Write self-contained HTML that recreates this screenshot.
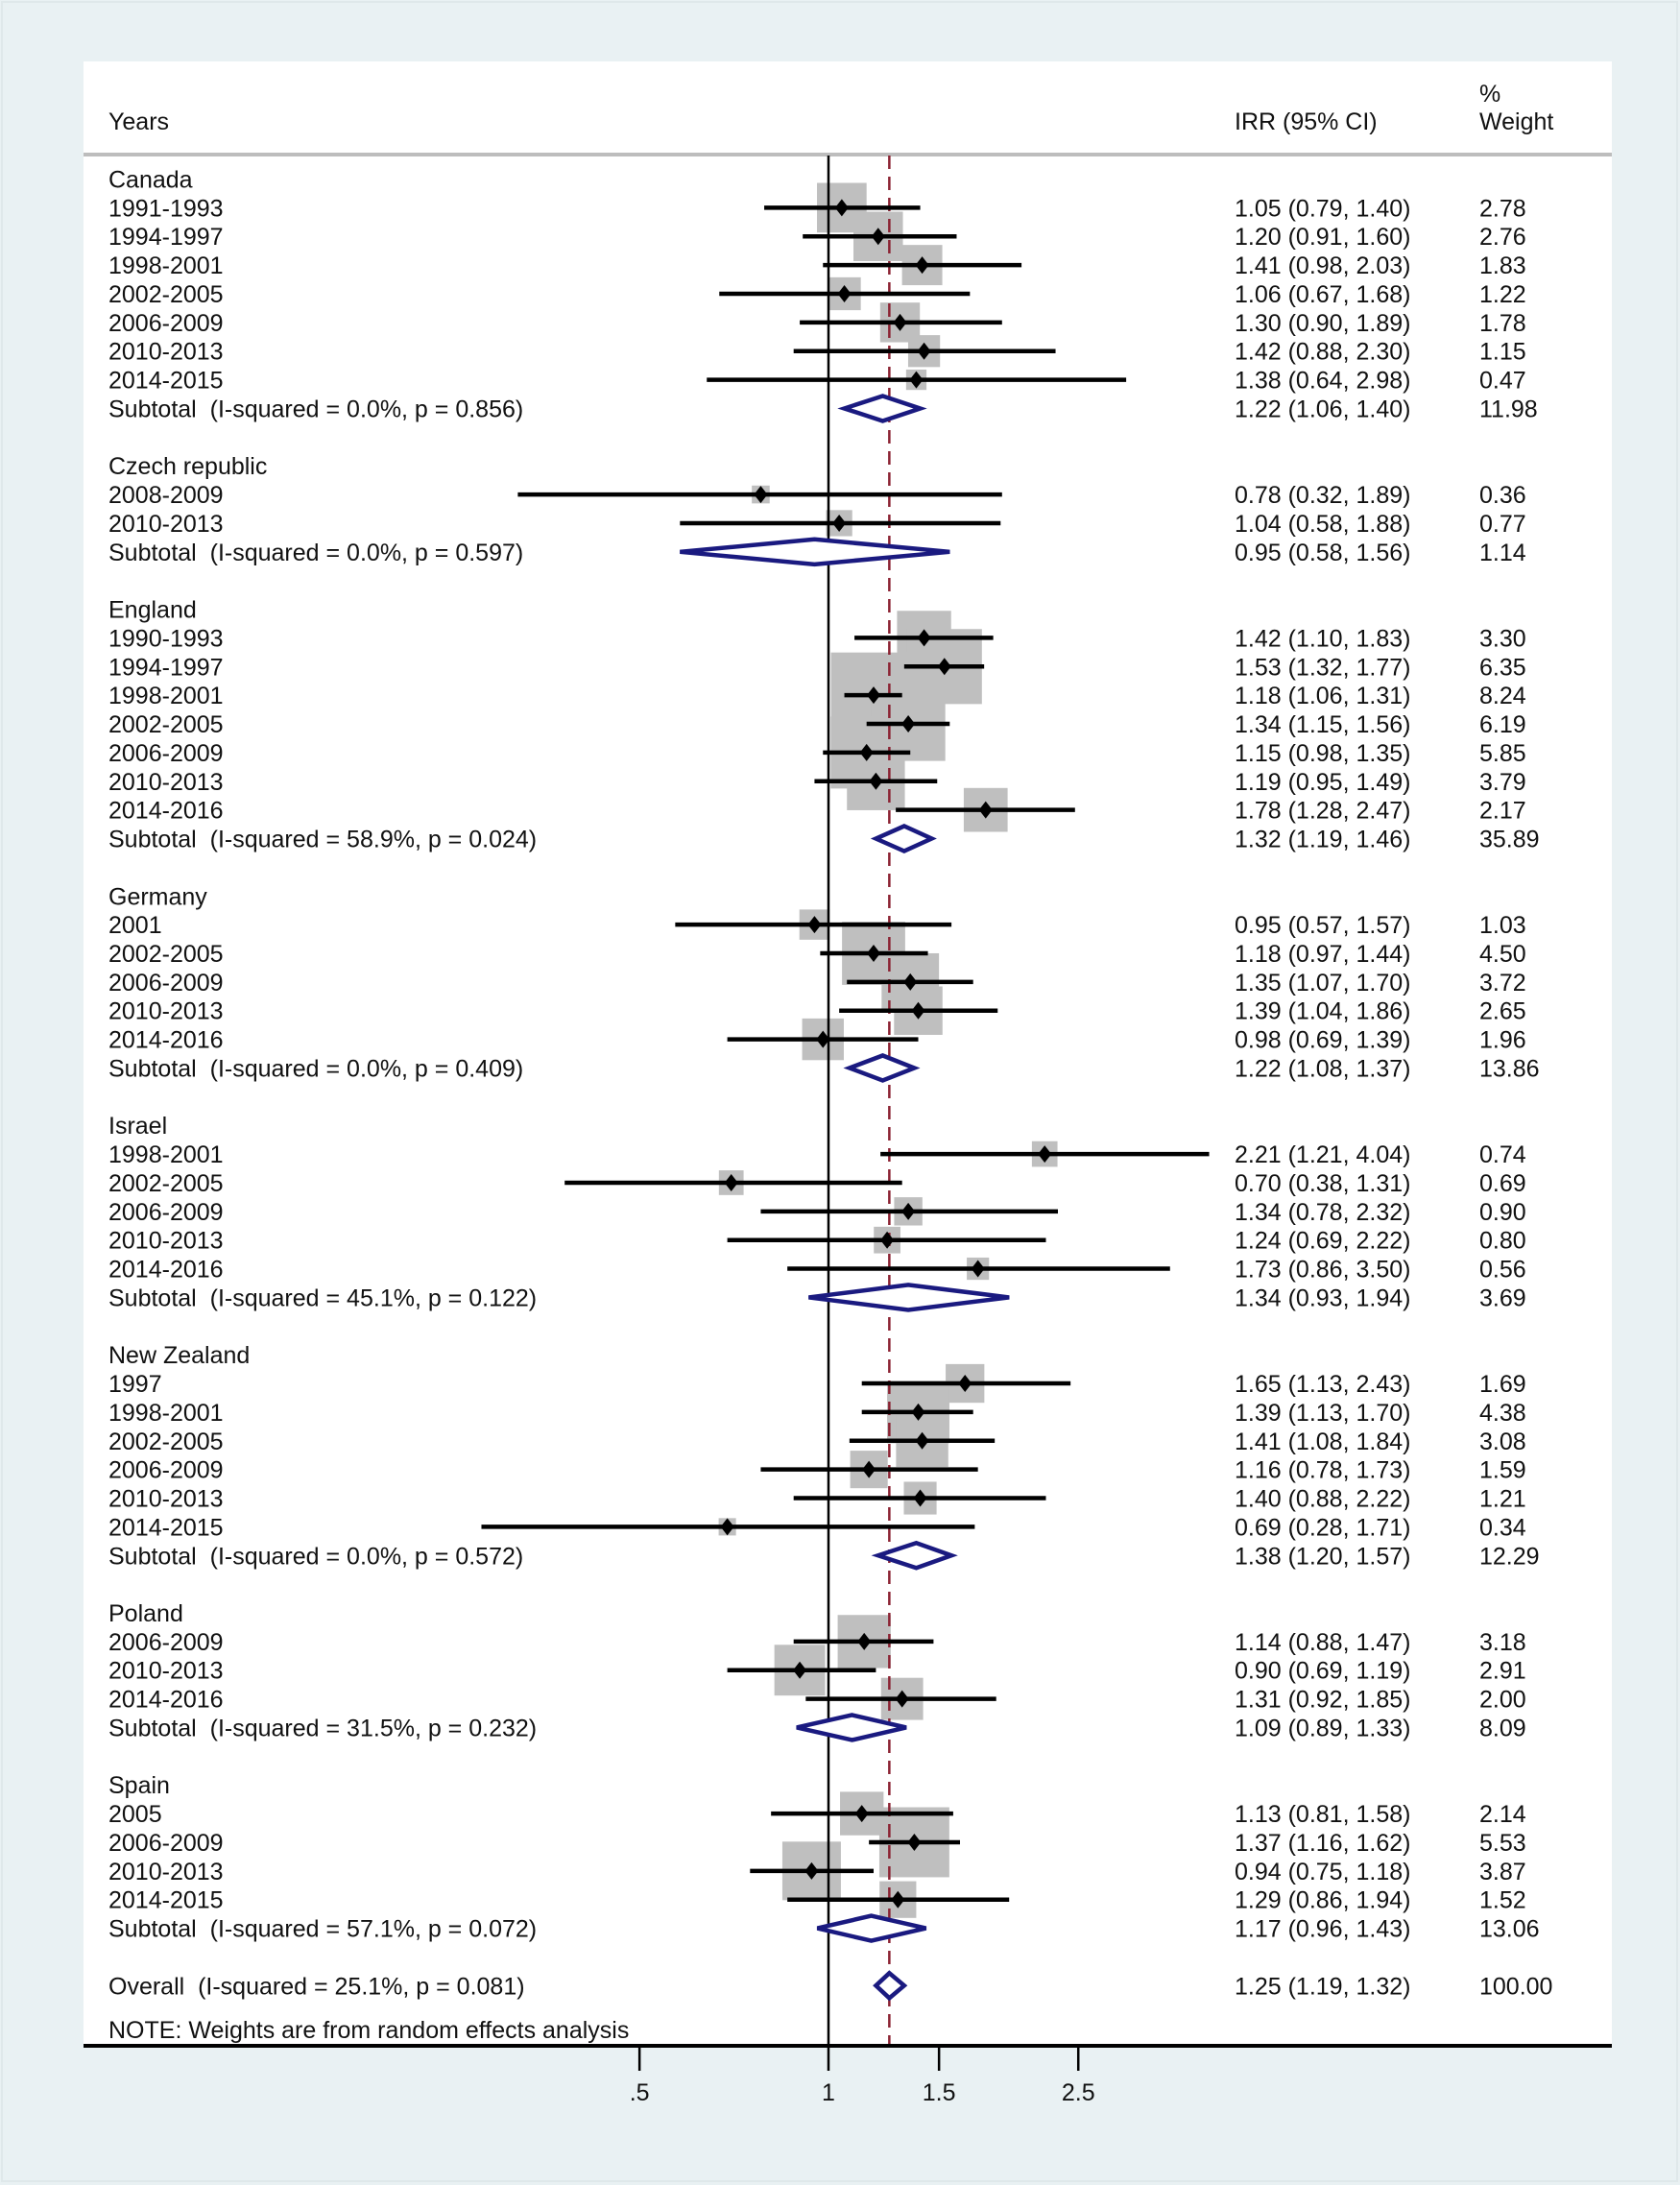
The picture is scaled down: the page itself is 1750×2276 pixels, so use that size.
<!DOCTYPE html>
<html><head><meta charset="utf-8"><style>
html,body{margin:0;padding:0;background:#e9f1f3;}
svg{display:block;font-family:"Liberation Sans",Arial,sans-serif;}
text{white-space:pre;}
</style></head><body>
<svg id="chart" width="1750" height="2276" viewBox="0 0 1750 2276" xmlns="http://www.w3.org/2000/svg">
<rect x="0" y="0" width="1750" height="2276" fill="#e9f1f3"/>
<rect x="2" y="2" width="1745" height="2270" fill="none" stroke="#dfe8ea" stroke-width="2"/>
<rect x="87" y="64" width="1592" height="2067" fill="#ffffff"/>
<g id="g" font-size="25" fill="#111"></g>
</svg>
<script>
const labels = ["Canada","1991-1993","1994-1997","1998-2001","2002-2005","2006-2009","2010-2013","2014-2015","Subtotal  (I-squared = 0.0%, p = 0.856)","",
"Czech republic","2008-2009","2010-2013","Subtotal  (I-squared = 0.0%, p = 0.597)","",
"England","1990-1993","1994-1997","1998-2001","2002-2005","2006-2009","2010-2013","2014-2016","Subtotal  (I-squared = 58.9%, p = 0.024)","",
"Germany","2001","2002-2005","2006-2009","2010-2013","2014-2016","Subtotal  (I-squared = 0.0%, p = 0.409)","",
"Israel","1998-2001","2002-2005","2006-2009","2010-2013","2014-2016","Subtotal  (I-squared = 45.1%, p = 0.122)","",
"New Zealand","1997","1998-2001","2002-2005","2006-2009","2010-2013","2014-2015","Subtotal  (I-squared = 0.0%, p = 0.572)","",
"Poland","2006-2009","2010-2013","2014-2016","Subtotal  (I-squared = 31.5%, p = 0.232)","",
"Spain","2005","2006-2009","2010-2013","2014-2015","Subtotal  (I-squared = 57.1%, p = 0.072)","",
"Overall  (I-squared = 25.1%, p = 0.081)"];
const kinds = ["h","s","s","s","s","s","s","s","t","b","h","s","s","t","b","h","s","s","s","s","s","s","s","t","b","h","s","s","s","s","s","t","b","h","s","s","s","s","s","t","b","h","s","s","s","s","s","s","t","b","h","s","s","s","t","b","h","s","s","s","s","t","b","o"];
const est = [0,1.05,1.20,1.41,1.06,1.30,1.42,1.38,1.22,0, 0,0.78,1.04,0.95,0, 0,1.42,1.53,1.18,1.34,1.15,1.19,1.78,1.32,0, 0,0.95,1.18,1.35,1.39,0.98,1.22,0, 0,2.21,0.70,1.34,1.24,1.73,1.34,0, 0,1.65,1.39,1.41,1.16,1.40,0.69,1.38,0, 0,1.14,0.90,1.31,1.09,0, 0,1.13,1.37,0.94,1.29,1.17,0, 1.25];
const lo = [0,0.79,0.91,0.98,0.67,0.90,0.88,0.64,1.06,0, 0,0.32,0.58,0.58,0, 0,1.10,1.32,1.06,1.15,0.98,0.95,1.28,1.19,0, 0,0.57,0.97,1.07,1.04,0.69,1.08,0, 0,1.21,0.38,0.78,0.69,0.86,0.93,0, 0,1.13,1.13,1.08,0.78,0.88,0.28,1.20,0, 0,0.88,0.69,0.92,0.89,0, 0,0.81,1.16,0.75,0.86,0.96,0, 1.19];
const hi = [0,1.40,1.60,2.03,1.68,1.89,2.30,2.98,1.40,0, 0,1.89,1.88,1.56,0, 0,1.83,1.77,1.31,1.56,1.35,1.49,2.47,1.46,0, 0,1.57,1.44,1.70,1.86,1.39,1.37,0, 0,4.04,1.31,2.32,2.22,3.50,1.94,0, 0,2.43,1.70,1.84,1.73,2.22,1.71,1.57,0, 0,1.47,1.19,1.85,1.33,0, 0,1.58,1.62,1.18,1.94,1.43,0, 1.32];
const weights = [0,2.78,2.76,1.83,1.22,1.78,1.15,0.47,11.98,0, 0,0.36,0.77,1.14,0, 0,3.30,6.35,8.24,6.19,5.85,3.79,2.17,35.89,0, 0,1.03,4.50,3.72,2.65,1.96,13.86,0, 0,0.74,0.69,0.90,0.80,0.56,3.69,0, 0,1.69,4.38,3.08,1.59,1.21,0.34,12.29,0, 0,3.18,2.91,2.00,8.09,0, 0,2.14,5.53,3.87,1.52,13.06,0, 100.00];
const tickVals = [0.5,1,1.5,2.5];
const tickLabels = [".5","1","1.5","2.5"];
const overallEst = 1.25;

const NS="http://www.w3.org/2000/svg";
const g=document.getElementById('g');
const X=v=>863+284*Math.log(v);
const Y=i=>186.5+i*29.87;
function mk(t,a,p){const e=document.createElementNS(NS,t);for(const k in a)e.setAttribute(k,a[k]);(p||g).appendChild(e);return e;}
function tx(x,y,s,anchor){const e=mk('text',{x:x,y:y,'text-anchor':anchor||'start'});e.textContent=s;return e;}

let t;
t=tx(113,135,"Years");


t=tx(1286,135,"IRR (95% CI)");


t=tx(1541,106,"%");


t=tx(1541,135,"Weight");


t=mk('line',{x1:87,y1:161,x2:1679,y2:161,stroke:'#bdbdbd','stroke-width':4});



const boxG=mk('g',{});


for(let i=0;i<kinds.length;i++){
  if(kinds[i]!=='s')continue;
  const s=31*Math.sqrt(weights[i]);
  const r=mk('rect',{x:X(est[i])-s/2,y:Y(i)-s/2,width:s,height:s,fill:'#bfbfbf'},boxG);
  
  
}
t=mk('line',{x1:X(1),y1:162,x2:X(1),y2:2131,stroke:'#000','stroke-width':2.5});


t=mk('line',{x1:X(overallEst),y1:162,x2:X(overallEst),y2:2131,stroke:'#8b2232','stroke-width':2.5,'stroke-dasharray':'14,8'});



for(let i=0;i<kinds.length;i++){
  const k=kinds[i],y=Y(i);
  if(k==='b')continue;
  t=tx(113,y+9,labels[i]);
  
  
  if(k==='h')continue;
  const ci=est[i].toFixed(2)+" ("+lo[i].toFixed(2)+", "+hi[i].toFixed(2)+")";
  t=tx(1286,y+9,ci);
  
  
  t=tx(1541,y+9,weights[i].toFixed(2));
  
  
  if(k==='s'){
    t=mk('line',{x1:X(lo[i]),y1:y,x2:X(hi[i]),y2:y,stroke:'#000','stroke-width':4.5});
    
    
    const cx=X(est[i]);
    t=mk('polygon',{points:`${cx-7},${y} ${cx},${y-9} ${cx+7},${y} ${cx},${y+9}`,fill:'#000'});
    
    
  } else {
    const a=X(lo[i]),b=X(hi[i]),c=X(est[i]),h=13;
    t=mk('polygon',{points:`${a},${y} ${c},${y-h} ${b},${y} ${c},${y+h}`,fill:'#fff',stroke:'#1a1a80','stroke-width':4.5});
    
    
  }
}
t=tx(113,2123,"NOTE: Weights are from random effects analysis");


t=mk('line',{x1:87,y1:2131,x2:1679,y2:2131,stroke:'#000','stroke-width':4});


for(let j=0;j<tickVals.length;j++){
  const x=X(tickVals[j]);
  t=mk('line',{x1:x,y1:2131,x2:x,y2:2157,stroke:'#000','stroke-width':2.5});
  
  
  t=tx(x,2188,tickLabels[j],'middle');
  
  
}
</script>
</body></html>
